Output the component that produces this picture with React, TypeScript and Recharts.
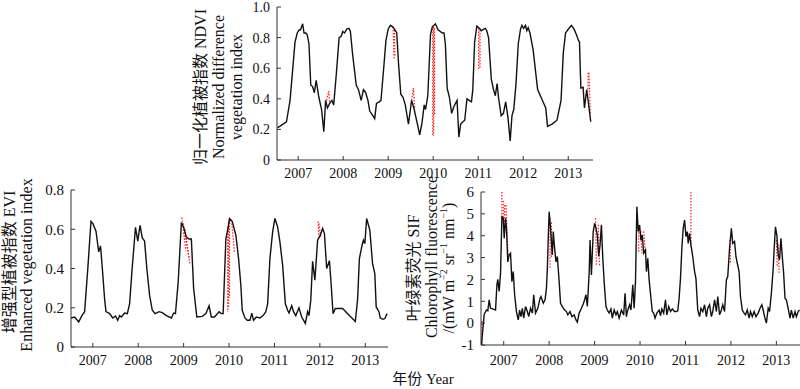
import React from 'react';
import { LineChart, Line, XAxis, YAxis, ReferenceLine } from 'recharts';

const yearTicks = [2007, 2008, 2009, 2010, 2011, 2012, 2013];
const ndviTicks = [0, 0.2, 0.4, 0.6, 0.8, 1.0];
const eviTicks = [0, 0.2, 0.4, 0.6, 0.8];
const sifTicks = [-1, 0, 1, 2, 3, 4, 5, 6];

// [year, NDVI]
const ndviPoints = [
  [2006.54, 0.21], [2006.74, 0.25], [2006.82, 0.39], [2006.93, 0.77], [2006.98, 0.83], [2007.02, 0.85],
  [2007.05, 0.85], [2007.10, 0.89], [2007.13, 0.83], [2007.17, 0.83], [2007.20, 0.82], [2007.24, 0.76],
  [2007.28, 0.49], [2007.32, 0.48], [2007.36, 0.44], [2007.40, 0.52], [2007.46, 0.41], [2007.52, 0.33],
  [2007.57, 0.185], [2007.61, 0.39], [2007.65, 0.34], [2007.70, 0.37], [2007.75, 0.39], [2007.79, 0.36],
  [2007.85, 0.57], [2007.91, 0.80], [2007.96, 0.81], [2007.99, 0.84], [2008.03, 0.83], [2008.08, 0.855],
  [2008.13, 0.86], [2008.16, 0.84], [2008.21, 0.69], [2008.29, 0.49], [2008.34, 0.46], [2008.40, 0.39],
  [2008.45, 0.46], [2008.50, 0.44], [2008.55, 0.39], [2008.59, 0.32], [2008.66, 0.29], [2008.70, 0.27],
  [2008.74, 0.37], [2008.80, 0.38], [2008.84, 0.39], [2008.90, 0.60], [2008.95, 0.78], [2009.00, 0.855],
  [2009.05, 0.88], [2009.10, 0.87], [2009.14, 0.855], [2009.19, 0.83], [2009.23, 0.63], [2009.28, 0.43],
  [2009.33, 0.41], [2009.38, 0.36], [2009.45, 0.235], [2009.52, 0.39], [2009.57, 0.34], [2009.63, 0.26],
  [2009.70, 0.165], [2009.75, 0.24], [2009.80, 0.36], [2009.83, 0.33], [2009.88, 0.42], [2009.94, 0.82],
  [2009.98, 0.87], [2010.05, 0.89], [2010.11, 0.85], [2010.16, 0.84], [2010.20, 0.83], [2010.24, 0.83],
  [2010.27, 0.76], [2010.31, 0.47], [2010.36, 0.41], [2010.41, 0.305], [2010.46, 0.35], [2010.53, 0.39],
  [2010.57, 0.15], [2010.61, 0.235], [2010.66, 0.25], [2010.70, 0.26], [2010.75, 0.40], [2010.80, 0.39],
  [2010.85, 0.38], [2010.88, 0.46], [2010.92, 0.77], [2010.97, 0.875], [2011.03, 0.86], [2011.07, 0.845],
  [2011.12, 0.855], [2011.16, 0.86], [2011.19, 0.845], [2011.23, 0.80], [2011.29, 0.53], [2011.34, 0.46],
  [2011.38, 0.42], [2011.42, 0.50], [2011.45, 0.41], [2011.51, 0.29], [2011.56, 0.305], [2011.61, 0.38],
  [2011.66, 0.28], [2011.71, 0.125], [2011.75, 0.29], [2011.79, 0.33], [2011.84, 0.50], [2011.89, 0.76],
  [2011.94, 0.855], [2011.97, 0.88], [2012.01, 0.86], [2012.05, 0.88], [2012.08, 0.845], [2012.11, 0.865],
  [2012.15, 0.83], [2012.22, 0.72], [2012.32, 0.46], [2012.41, 0.40], [2012.50, 0.34], [2012.54, 0.22],
  [2012.64, 0.235], [2012.75, 0.26], [2012.84, 0.39], [2012.89, 0.70], [2012.94, 0.83], [2013.00, 0.855],
  [2013.07, 0.88], [2013.13, 0.855], [2013.18, 0.82], [2013.23, 0.78], [2013.25, 0.77], [2013.28, 0.47],
  [2013.33, 0.475], [2013.36, 0.34], [2013.41, 0.46], [2013.45, 0.37], [2013.50, 0.25],
];

// [year, EVI]
const eviPoints = [
  [2006.52, 0.148], [2006.60, 0.153], [2006.69, 0.128], [2006.76, 0.16], [2006.82, 0.18], [2006.89, 0.40],
  [2006.96, 0.64], [2007.00, 0.63], [2007.07, 0.59], [2007.13, 0.485], [2007.17, 0.515], [2007.21, 0.40],
  [2007.26, 0.245], [2007.29, 0.18], [2007.37, 0.17], [2007.44, 0.148], [2007.50, 0.158], [2007.55, 0.136],
  [2007.59, 0.16], [2007.63, 0.153], [2007.70, 0.173], [2007.76, 0.17], [2007.81, 0.22], [2007.87, 0.41],
  [2007.94, 0.61], [2007.99, 0.54], [2008.04, 0.62], [2008.09, 0.556], [2008.14, 0.54], [2008.19, 0.40],
  [2008.25, 0.264], [2008.31, 0.187], [2008.37, 0.17], [2008.46, 0.18], [2008.53, 0.175], [2008.62, 0.16],
  [2008.73, 0.148], [2008.78, 0.173], [2008.82, 0.17], [2008.88, 0.33], [2008.95, 0.634], [2009.00, 0.61],
  [2009.06, 0.56], [2009.12, 0.55], [2009.17, 0.55], [2009.22, 0.30], [2009.29, 0.153], [2009.41, 0.156],
  [2009.49, 0.17], [2009.56, 0.21], [2009.61, 0.153], [2009.68, 0.153], [2009.78, 0.18], [2009.83, 0.17],
  [2009.87, 0.17], [2009.93, 0.55], [2009.98, 0.61], [2010.01, 0.655], [2010.07, 0.64], [2010.15, 0.57],
  [2010.21, 0.45], [2010.26, 0.315], [2010.29, 0.187], [2010.35, 0.148], [2010.40, 0.136], [2010.46, 0.136],
  [2010.50, 0.173], [2010.54, 0.136], [2010.60, 0.153], [2010.68, 0.148], [2010.75, 0.16], [2010.81, 0.18],
  [2010.85, 0.22], [2010.90, 0.45], [2010.96, 0.587], [2011.01, 0.655], [2011.07, 0.612], [2011.12, 0.536],
  [2011.18, 0.417], [2011.24, 0.22], [2011.29, 0.187], [2011.32, 0.173], [2011.38, 0.21], [2011.42, 0.18],
  [2011.47, 0.16], [2011.54, 0.20], [2011.60, 0.153], [2011.68, 0.12], [2011.73, 0.18], [2011.76, 0.16],
  [2011.80, 0.24], [2011.84, 0.437], [2011.89, 0.34], [2011.95, 0.544], [2012.01, 0.57], [2012.06, 0.604],
  [2012.10, 0.578], [2012.15, 0.40], [2012.21, 0.44], [2012.25, 0.315], [2012.29, 0.17], [2012.34, 0.196],
  [2012.50, 0.196], [2012.65, 0.16], [2012.78, 0.13], [2012.83, 0.24], [2012.87, 0.45], [2012.93, 0.52],
  [2012.96, 0.544], [2012.99, 0.527], [2013.03, 0.655], [2013.10, 0.595], [2013.16, 0.425], [2013.21, 0.374],
  [2013.24, 0.204], [2013.30, 0.18], [2013.33, 0.148], [2013.39, 0.141], [2013.43, 0.145], [2013.48, 0.17],
];

// [year, SIF]
const sifPoints = [
  [2006.51, -1.0], [2006.54, -0.3], [2006.57, 0.4], [2006.62, 0.6], [2006.65, 0.56], [2006.68, 1.07],
  [2006.71, 0.68], [2006.76, 0.65], [2006.82, 0.6], [2006.85, 1.75], [2006.87, 2.0], [2006.90, 1.45],
  [2006.93, 2.28], [2006.96, 4.87], [2006.99, 4.8], [2007.01, 3.88], [2007.04, 4.8], [2007.06, 4.34],
  [2007.09, 2.8], [2007.12, 3.12], [2007.15, 3.2], [2007.18, 1.9], [2007.21, 2.36], [2007.24, 1.3],
  [2007.28, 0.53], [2007.32, 0.15], [2007.35, 0.6], [2007.38, 0.3], [2007.41, 0.68], [2007.44, 0.23],
  [2007.48, 0.76], [2007.52, 0.53], [2007.55, 0.3], [2007.59, 0.68], [2007.63, 0.46], [2007.66, 1.3],
  [2007.70, 0.46], [2007.75, 0.68], [2007.80, 1.14], [2007.82, 1.22], [2007.87, 0.91], [2007.91, 1.07],
  [2007.94, 1.6], [2007.96, 2.5], [2007.98, 3.88], [2008.00, 5.1], [2008.03, 4.34], [2008.07, 3.12],
  [2008.09, 4.19], [2008.12, 3.42], [2008.15, 2.8], [2008.18, 3.05], [2008.22, 1.9], [2008.25, 0.91],
  [2008.30, 0.72], [2008.34, 0.6], [2008.38, 0.53], [2008.41, 0.38], [2008.46, 0.53], [2008.50, 0.3],
  [2008.55, 0.38], [2008.59, 0.15], [2008.62, 0.05], [2008.66, 0.46], [2008.71, 0.68], [2008.75, 0.87],
  [2008.78, 1.07], [2008.81, 1.3], [2008.84, 0.76], [2008.88, 2.28], [2008.90, 3.8], [2008.93, 2.2],
  [2008.97, 4.19], [2009.00, 4.57], [2009.03, 4.34], [2009.06, 4.03], [2009.09, 3.05], [2009.12, 3.58],
  [2009.15, 4.5], [2009.18, 2.97], [2009.21, 1.9], [2009.25, 0.76], [2009.28, 0.6], [2009.32, 0.46],
  [2009.36, 0.65], [2009.39, 0.23], [2009.43, 0.6], [2009.47, 0.38], [2009.50, 0.53], [2009.54, 0.23],
  [2009.59, 0.6], [2009.64, 0.38], [2009.67, 1.37], [2009.70, 0.3], [2009.72, 0.53], [2009.77, 0.84],
  [2009.80, 0.6], [2009.84, 1.75], [2009.87, 0.68], [2009.90, 1.9], [2009.93, 5.33], [2009.96, 4.19],
  [2009.99, 4.49], [2010.02, 3.8], [2010.05, 4.03], [2010.08, 3.2], [2010.12, 3.35], [2010.14, 2.36],
  [2010.17, 2.97], [2010.20, 1.98], [2010.24, 1.14], [2010.27, 0.53], [2010.30, 0.46], [2010.33, 0.23],
  [2010.37, 0.46], [2010.42, 0.6], [2010.45, 0.35], [2010.48, 0.65], [2010.52, 0.46], [2010.56, 1.07],
  [2010.59, 0.38], [2010.63, 0.76], [2010.67, 0.53], [2010.71, 0.65], [2010.76, 0.53], [2010.80, 0.53],
  [2010.83, 0.56], [2010.86, 1.14], [2010.89, 2.05], [2010.92, 3.42], [2010.95, 4.34], [2010.98, 4.72],
  [2011.01, 3.96], [2011.04, 4.19], [2011.06, 3.65], [2011.09, 4.11], [2011.12, 3.58], [2011.16, 3.05],
  [2011.20, 2.36], [2011.23, 2.05], [2011.27, 0.6], [2011.31, 0.3], [2011.34, 0.68], [2011.38, 0.53],
  [2011.42, 0.84], [2011.46, 0.3], [2011.49, 0.68], [2011.53, 0.84], [2011.57, 0.3], [2011.60, 0.53],
  [2011.64, 1.07], [2011.68, 0.53], [2011.71, 1.22], [2011.75, 0.38], [2011.79, 0.6], [2011.82, 0.84],
  [2011.86, 0.53], [2011.90, 1.98], [2011.93, 2.13], [2011.97, 3.42], [2012.01, 4.34], [2012.04, 3.65],
  [2012.08, 3.73], [2012.11, 3.05], [2012.14, 2.74], [2012.18, 2.36], [2012.21, 1.22], [2012.25, 0.6],
  [2012.29, 0.46], [2012.32, 0.38], [2012.36, 0.6], [2012.40, 0.23], [2012.43, 0.53], [2012.47, 0.3],
  [2012.51, 0.53], [2012.55, 0.3], [2012.60, 0.46], [2012.64, 0.68], [2012.68, 0.84], [2012.71, 0.6],
  [2012.74, 0.3], [2012.78, 0.0], [2012.82, 0.68], [2012.85, 0.53], [2012.89, 1.37], [2012.93, 2.5],
  [2012.95, 3.35], [2012.98, 4.41], [2013.01, 4.03], [2013.04, 3.12], [2013.07, 2.9], [2013.10, 3.88],
  [2013.13, 3.05], [2013.16, 2.28], [2013.19, 1.14], [2013.22, 1.07], [2013.26, 0.68], [2013.30, 0.23],
  [2013.33, 0.6], [2013.37, 0.23], [2013.41, 0.53], [2013.44, 0.3], [2013.48, 0.53], [2013.51, 0.6],
];

// red dotted marks: [x1, y1, x2, y2]
const ndviMarks = [
  [2007.63, 0.39, 2007.68, 0.45], [2007.68, 0.45, 2007.70, 0.37],
  [2009.11, 0.87, 2009.13, 0.66], [2009.14, 0.85, 2009.15, 0.68],
  [2009.52, 0.39, 2009.56, 0.47], [2009.56, 0.47, 2009.59, 0.33],
  [2009.99, 0.86, 2009.99, 0.155], [2010.01, 0.87, 2010.01, 0.16], [2010.03, 0.86, 2010.03, 0.3],
  [2011.01, 0.86, 2011.01, 0.59], [2011.04, 0.85, 2011.04, 0.6],
  [2013.44, 0.57, 2013.44, 0.45], [2013.46, 0.57, 2013.49, 0.3],
];
const eviMarks = [
  [2008.96, 0.66, 2009.05, 0.49], [2008.99, 0.63, 2009.12, 0.45], [2009.03, 0.6, 2009.14, 0.42],
  [2009.97, 0.61, 2009.97, 0.18], [2009.99, 0.64, 2009.99, 0.2], [2010.01, 0.65, 2010.01, 0.25],
  [2010.06, 0.63, 2010.12, 0.48],
  [2011.96, 0.64, 2011.98, 0.55], [2011.98, 0.63, 2012.02, 0.56],
];
const sifMarks = [
  [2006.52, 0.1, 2006.52, -1.0],
  [2006.96, 6.0, 2006.96, 4.8], [2006.99, 5.6, 2006.99, 4.8], [2007.02, 5.4, 2007.02, 4.6], [2007.05, 5.4, 2007.10, 2.8],
  [2008.02, 4.8, 2008.02, 2.5], [2008.05, 4.6, 2008.05, 3.0],
  [2009.02, 4.8, 2009.04, 2.6], [2009.08, 4.5, 2009.11, 2.6],
  [2009.97, 4.3, 2009.97, 3.2], [2010.02, 4.2, 2010.04, 3.2], [2010.08, 4.2, 2010.12, 3.2],
  [2011.12, 6.0, 2011.12, 3.5],
  [2011.98, 3.8, 2011.99, 2.7],
  [2013.00, 3.8, 2013.02, 2.6], [2013.04, 3.6, 2013.06, 2.3],
];

const serif = '"Liberation Serif", "Noto Sans CJK SC", serif';
const tickStyle = { fill: '#111', fontSize: 14, fontFamily: serif };
const axisColor = '#333';

const toRows = (pts: number[][]) => pts.map(([year, value]) => ({ year, value }));

function Panel({ points, marks, xDomain, yDomain, yTicks, yFormat, yFont, width, height, margin, yWidth, xHeight, xMargin }: any) {
  return (
    <LineChart width={width} height={height} data={toRows(points)} margin={margin}>
      <XAxis
        type="number"
        dataKey="year"
        domain={xDomain}
        ticks={yearTicks}
        interval={0}
        allowDataOverflow
        height={xHeight}
        tick={tickStyle}
        tickSize={-4}
        tickMargin={xMargin}
        stroke={axisColor}
        tickLine={{ stroke: axisColor }}
      />
      <YAxis
        type="number"
        domain={yDomain}
        ticks={yTicks}
        interval={0}
        allowDataOverflow
        width={yWidth}
        tick={{ ...tickStyle, fontSize: yFont }}
        tickSize={-4}
        tickMargin={11}
        tickFormatter={yFormat}
        stroke={axisColor}
        tickLine={{ stroke: axisColor }}
      />
      {marks.map((m: number[], i: number) => (
        <ReferenceLine
          key={i}
          segment={[{ x: m[0], y: m[1] }, { x: m[2], y: m[3] }]}
          stroke="#ff1a1a"
          strokeWidth={1.2}
          strokeDasharray="1.5 1.5"
          ifOverflow="visible"
        />
      ))}
      <Line
        type="linear"
        dataKey="value"
        stroke="#111"
        strokeWidth={1.4}
        dot={false}
        isAnimationActive={false}
      />
    </LineChart>
  );
}

const rotated = (left: number, top: number, size: number): React.CSSProperties => ({
  position: 'absolute',
  left,
  top,
  transform: 'translate(-50%, -50%) rotate(-90deg)',
  whiteSpace: 'nowrap',
  fontFamily: serif,
  fontSize: size,
  color: '#111',
  lineHeight: 1,
});

export default function App() {
  return (
    <div style={{ position: 'absolute', left: 0, top: 0, width: 800, height: 389, background: '#fff', overflow: 'hidden' }}>
      <div style={{ position: 'absolute', left: 230, top: 0 }}>
        <Panel
          points={ndviPoints}
          marks={ndviMarks}
          xDomain={[2006.53, 2013.55]}
          yDomain={[0, 1]}
          yTicks={ndviTicks}
          yFormat={(v: number) => (v === 0 ? '0' : v.toFixed(1))}
          yFont={14}
          width={380}
          height={185}
          margin={{ top: 7, right: 17, bottom: 0, left: 0 }}
          yWidth={47}
          xHeight={25}
          xMargin={12}
        />
      </div>
      <div style={{ position: 'absolute', left: 20, top: 180 }}>
        <Panel
          points={eviPoints}
          marks={eviMarks}
          xDomain={[2006.52, 2013.5]}
          yDomain={[0, 0.8]}
          yTicks={eviTicks}
          yFormat={(v: number) => (v === 0 ? '0' : v.toFixed(1))}
          yFont={15}
          width={380}
          height={195}
          margin={{ top: 10, right: 12, bottom: 0, left: 0 }}
          yWidth={51}
          xHeight={28}
          xMargin={12}
        />
      </div>
      <div style={{ position: 'absolute', left: 430, top: 180 }}>
        <Panel
          points={sifPoints}
          marks={sifMarks}
          xDomain={[2006.5, 2013.52]}
          yDomain={[-1, 6]}
          yTicks={sifTicks}
          yFormat={(v: number) => String(v)}
          yFont={15}
          width={370}
          height={195}
          margin={{ top: 12, right: 0, bottom: 0, left: 0 }}
          yWidth={51}
          xHeight={30}
          xMargin={14}
        />
      </div>

      <div style={rotated(201, 87, 16)}>归一化植被指数 NDVI</div>
      <div style={rotated(219, 87, 16)}>Normalized difference</div>
      <div style={rotated(237, 87, 16)}>vegetation index</div>

      <div style={rotated(10, 262, 16)}>增强型植被指数 EVI</div>
      <div style={rotated(27, 265, 16)}>Enhanced vegetation index</div>

      <div style={rotated(414, 268, 16)}>叶绿素荧光 SIF</div>
      <div style={rotated(432, 257, 16)}>Chlorophyll fluorescence</div>
      <div style={rotated(448, 268, 16)}>
        /(mW m<sup style={{ fontSize: 10 }}>−2</sup> sr<sup style={{ fontSize: 10 }}>−1</sup> nm<sup style={{ fontSize: 10 }}>−1</sup>)
      </div>

      <div style={{ position: 'absolute', left: 423, top: 377, transform: 'translate(-50%, -50%)', whiteSpace: 'nowrap', fontFamily: serif, fontSize: 15, color: '#111' }}>
        年份 Year
      </div>
    </div>
  );
}
